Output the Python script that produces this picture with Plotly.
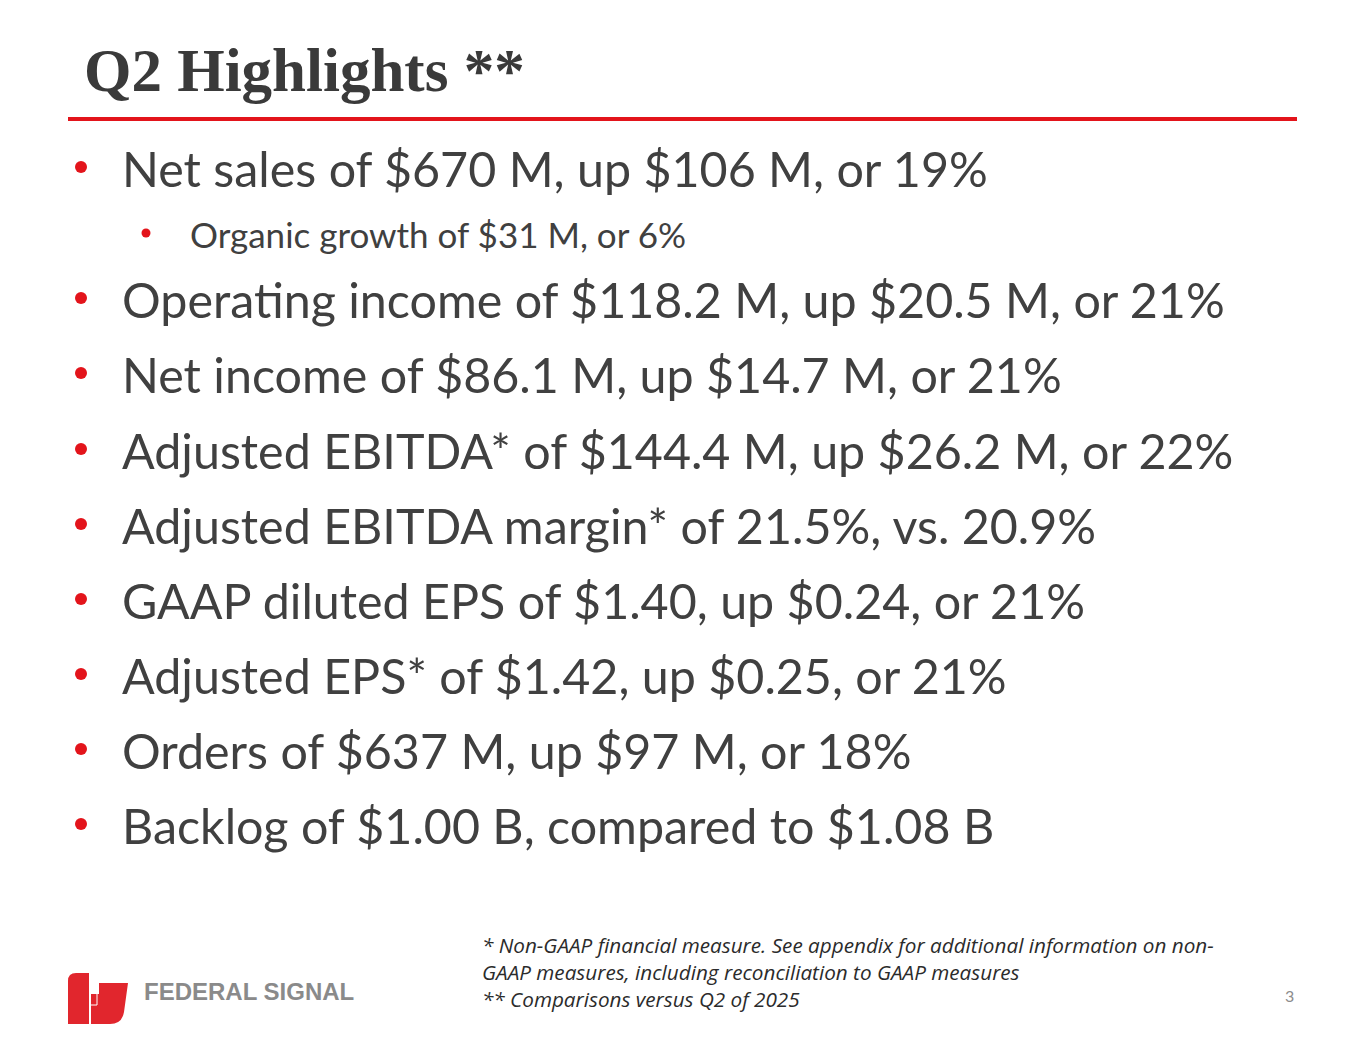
import plotly.graph_objects as go

W, H = 1365, 1055
OFF = 8  # default page body margin in the written html

title_text = "Q2 Highlights **"
main_bullets = [
    "Net sales of $670 M, up $106 M, or 19%",
    "Operating income of $118.2 M, up $20.5 M, or 21%",
    "Net income of $86.1 M, up $14.7 M, or 21%",
    "Adjusted EBITDA* of $144.4 M, up $26.2 M, or 22%",
    "Adjusted EBITDA margin* of 21.5%, vs. 20.9%",
    "GAAP diluted EPS of $1.40, up $0.24, or 21%",
    "Adjusted EPS* of $1.42, up $0.25, or 21%",
    "Orders of $637 M, up $97 M, or 18%",
    "Backlog of $1.00 B, compared to $1.08 B",
]
# row index of each main bullet (sub bullet sits in row 1)
main_rows = [0, 2, 3, 4, 5, 6, 7, 8, 9]
sub_bullets = ["Organic growth of $31 M, or 6%"]
sub_rows = [1]
footnotes = [
    "* Non-GAAP financial measure. See appendix for additional information on non-",
    "GAAP measures, including reconciliation to GAAP measures",
    "** Comparisons versus Q2 of 2025",
]
page_number = "3"
logo_text = "FEDERAL SIGNAL"

# layout constants
RED = "#E3141B"
LOGO_RED = "#E1262D"
TXT = "#404040"
BODY_FONT = "Lato"
row_y = [168, 234, 299, 374, 450, 525, 600, 675, 750, 825]

fig = go.Figure()

# bullets
fig.add_trace(go.Scatter(
    x=[81] * len(main_rows), y=[row_y[r] - 1 for r in main_rows],
    mode="markers", marker=dict(color=RED, size=12, line=dict(width=0)),
    hoverinfo="skip", showlegend=False))
fig.add_trace(go.Scatter(
    x=[146] * len(sub_rows), y=[row_y[r] - 1 for r in sub_rows],
    mode="markers", marker=dict(color=RED, size=9, line=dict(width=0)),
    hoverinfo="skip", showlegend=False))

ann = []
ann.append(dict(x=82, y=70, text="<b>" + title_text + "</b>", xanchor="left", yanchor="middle",
                font=dict(family="Liberation Serif", size=61, color="#3a3a3a"), showarrow=False))
for t, r in zip(main_bullets, main_rows):
    ann.append(dict(x=120, y=row_y[r], text=t, xanchor="left", yanchor="middle",
                    font=dict(family=BODY_FONT, size=48.4, color=TXT), showarrow=False))
for t, r in zip(sub_bullets, sub_rows):
    ann.append(dict(x=188, y=row_y[r], text=t, xanchor="left", yanchor="middle",
                    font=dict(family=BODY_FONT, size=35, color=TXT), showarrow=False))
for i, t in enumerate(footnotes):
    ann.append(dict(x=480, y=945 + 27 * i, text="<i>" + t + "</i>", xanchor="left", yanchor="middle",
                    font=dict(family="Open Sans", size=20.7, color="#2b2b2b"), showarrow=False))
ann.append(dict(x=1289, y=995, text=page_number, xanchor="center", yanchor="middle",
                font=dict(family=BODY_FONT, size=16, color="#8c8c8c"), showarrow=False))
ann.append(dict(x=142, y=991, text="<b>" + logo_text + "</b>", xanchor="left", yanchor="middle",
                font=dict(family="Liberation Sans", size=24, color="#8a8a8a"), showarrow=False))
for a in ann:
    a.update(xref="x", yref="y")

shapes = [
    dict(type="line", x0=68, x1=1297, y0=119, y1=119, line=dict(color=RED, width=4)),
    # logo mark: left "f" piece and right "s" piece
    dict(type="path", path="M68,1024 L68,981 Q68,973 76,973 L89,973 L89,1024 Z",
         fillcolor=LOGO_RED, line=dict(width=0)),
    dict(type="path", path="M91,994 L99,994 L99,983 L128,983 L124,1012 Q122,1024 110,1024 L91,1024 Z",
         fillcolor=LOGO_RED, line=dict(width=0)),
    dict(type="path", path="M91,1005 L97,1005 L97,994", line=dict(color="white", width=1)),
]

fig.update_layout(
    width=W - OFF, height=H - OFF, margin=dict(l=0, r=0, t=0, b=0),
    paper_bgcolor="white", plot_bgcolor="white",
    xaxis=dict(range=[OFF, W], visible=False, fixedrange=True),
    yaxis=dict(range=[H, OFF], visible=False, fixedrange=True),
    annotations=ann, shapes=shapes, showlegend=False,
)
fig.write_html("out.html")
